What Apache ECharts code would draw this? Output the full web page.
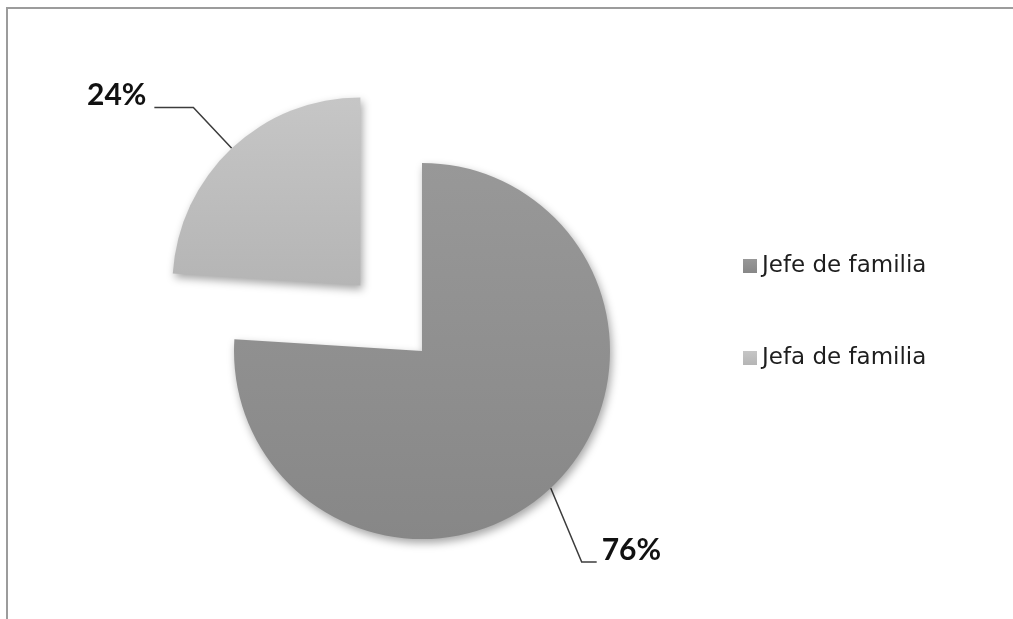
<!DOCTYPE html>
<html>
<head>
<meta charset="utf-8">
<style>
  html, body { margin: 0; padding: 0; background: #ffffff; }
  #chart { width: 1013px; height: 619px; }
</style>
<script src="https://cdn.jsdelivr.net/npm/echarts@6/dist/echarts.min.js"></script>
</head>
<body>
<div id="chart"></div>
<script>
// Household heads by sex (percent of households)
const categories = ['Jefe de familia', 'Jefa de familia'];
const shares = [76, 24];
const pulledOut = [false, true];

// Slice fills: top and bottom stops of a soft vertical gradient
const sliceFills = [
  ['#989898', '#878787'],
  ['#c6c6c6', '#b5b5b5']
];

const PIE_CENTER = [422, 351];
const PIE_RADIUS = 188;
const PULL_OFFSET = 90;

// Leader line of the slice that stays in place: bend relative to the arc anchor,
// then a short horizontal tail; the label sits just past the tail.
const fixedLeader = { dx: 31, dy: 74, tail: 15, gap: 5, rise: -12 };

const chart = echarts.init(document.getElementById('chart'), null, { renderer: 'canvas' });

const seriesData = categories.map((name, i) => {
  const item = {
    name: name,
    value: shares[i],
    selected: pulledOut[i],
    itemStyle: {
      color: new echarts.graphic.LinearGradient(0, 0, 0, 1, [
        { offset: 0, color: sliceFills[i][0] },
        { offset: 1, color: sliceFills[i][1] }
      ])
    }
  };
  if (pulledOut[i]) {
    // pulled-out slice keeps the pie's own leader; an empty second line
    // lifts the text so the tail runs along its baseline
    item.labelLine = { length: 56, length2: 39 };
    item.label = { distanceToLabelLine: 8, lineHeight: 24, formatter: '{c}%\n' };
  }
  return item;
});

chart.setOption({
  animation: false,
  backgroundColor: '#ffffff',
  graphic: [{
    type: 'rect',
    shape: { x: 7, y: 8, width: 1200, height: 800 },
    style: { fill: 'none', stroke: '#9c9c9c', lineWidth: 2 },
    silent: true
  }],
  legend: {
    orient: 'vertical',
    left: 738,
    top: 249,
    itemWidth: 14,
    itemHeight: 14,
    itemGap: 68,
    icon: 'rect',
    selectedMode: false,
    data: categories,
    textStyle: {
      fontFamily: 'DejaVu Sans',
      fontSize: 23,
      lineHeight: 24,
      color: '#1e1e1e',
      padding: [0, 0, 0, 0]
    }
  },
  series: [{
    type: 'pie',
    center: PIE_CENTER,
    radius: PIE_RADIUS,
    startAngle: 90,
    clockwise: true,
    selectedMode: 'single',
    selectedOffset: PULL_OFFSET,
    emphasis: { disabled: true },
    itemStyle: {
      borderWidth: 0,
      shadowBlur: 9,
      shadowOffsetX: 2,
      shadowOffsetY: 4,
      shadowColor: 'rgba(0,0,0,0.35)'
    },
    label: {
      show: true,
      position: 'outside',
      formatter: '{c}%',
      fontFamily: 'Lato',
      fontWeight: 'bold',
      fontSize: 30,
      color: '#111111'
    },
    labelLine: {
      show: true,
      length: 40,
      length2: 15,
      lineStyle: { color: '#3c3c3c', width: 1.5 }
    },
    labelLayout: function (p) {
      const pts = p.labelLinePoints;
      if (!pts || pulledOut[p.dataIndex]) return {};
      const lead = fixedLeader;
      const a = pts[0];
      const bend = [a[0] + lead.dx, a[1] + lead.dy];
      const end = [bend[0] + lead.tail, bend[1]];
      return {
        x: end[0] + lead.gap,
        y: end[1] + lead.rise,
        align: 'left',
        verticalAlign: 'middle',
        labelLinePoints: [[a[0], a[1]], bend, end]
      };
    },
    data: seriesData
  }]
});
</script>
</body>
</html>
